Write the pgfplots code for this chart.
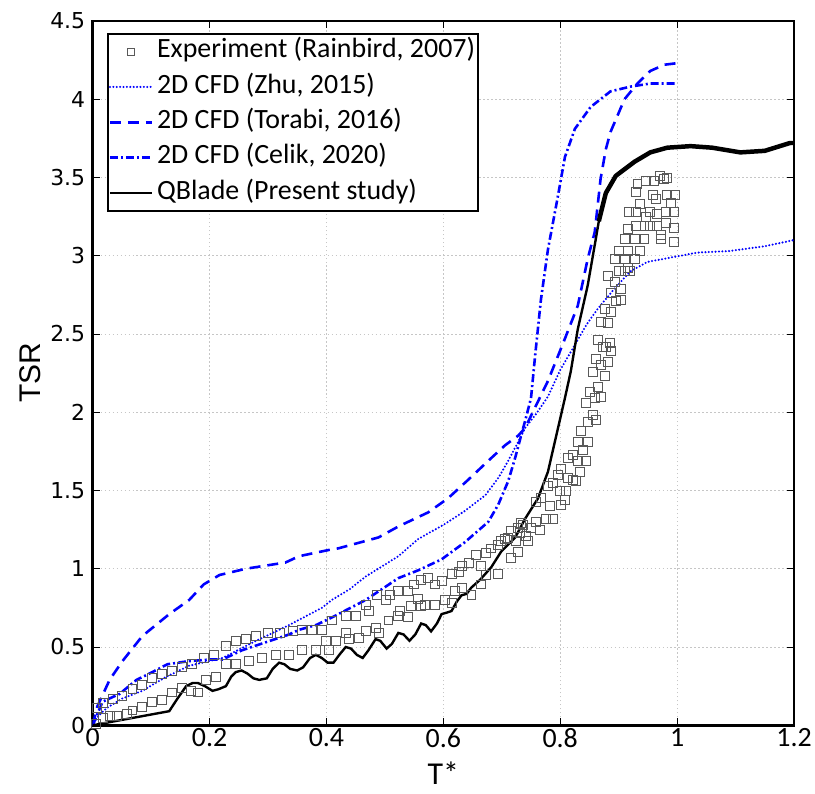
\documentclass[border=0pt]{standalone}
\usepackage{pgfplots}
\pgfplotsset{compat=1.18}
\usepackage{fontspec}
\setmainfont{Carlito}
\newfontfamily\dejavu{DejaVu Sans}
\newfontfamily\arialf{Liberation Sans}
\definecolor{pblue}{RGB}{0,0,255}
\begin{document}
\begin{tikzpicture}
\begin{axis}[
  scale only axis, width=704pt, height=707pt,
  xmin=0, xmax=1.2, ymin=0, ymax=4.5,
  xtick={0,0.2,0.4,0.6,0.8,1,1.2}, xticklabels={0,0.2,0.4,0.6,0.8,1,1.2},
  ytick={0,0.5,1,1.5,2,2.5,3,3.5,4,4.5}, yticklabels={0,0.5,1,1.5,2,2.5,3,3.5,4,4.5},
  axis line style={line width=2.5pt},
  tick align=inside, major tick length=7pt, tick style={black, line width=0.6pt},
  grid=major, major grid style={gray!45, line width=0.8pt, dash pattern=on 1.5pt off 2.5pt},
  xticklabel style={font=\fontsize{28}{28}\selectfont},
  yticklabel style={font=\dejavu\fontsize{22}{22}\selectfont, xshift=-4pt},
  xlabel={T*}, ylabel={TSR},
  xlabel style={font=\fontsize{32}{32}\selectfont, at={(axis description cs:0.5,-0.068)}, anchor=center},
  ylabel style={font=\arialf\fontsize{30}{30}\selectfont, at={(axis description cs:-0.0895,0.5)}, anchor=center},
  legend style={at={(0.02,0.983)}, anchor=north west, draw=black, line width=2pt,
    font=\fontsize{28}{28}\selectfont, inner xsep=1pt, inner ysep=3pt, row sep=6pt, column sep=2pt,
    nodes={inner sep=2pt, text height=19pt, text depth=6.5pt}},
  legend cell align=left,
  legend image code/.code={\draw[#1] (0pt,0pt) -- (42pt,0pt);},
]
% Experiment (Rainbird, 2007)
\addplot[only marks, mark=square, mark size=4.5pt, black!65, mark options={solid, line width=0.8pt},
  legend image code/.code={\draw[black!65, line width=0.7pt] (17.5pt,-3.5pt) rectangle (24.5pt,3.5pt);}]
table {
x y
0.005 0.01
0.017 0.05
0.030 0.06
0.042 0.06
0.058 0.07
0.068 0.095
0.085 0.115
0.102 0.15
0.119 0.16
0.136 0.21
0.153 0.24
0.168 0.22
0.180 0.21
0.194 0.29
0.211 0.31
0.228 0.39
0.245 0.39
0.268 0.41
0.290 0.43
0.314 0.45
0.336 0.45
0.358 0.48
0.382 0.48
0.404 0.48
0.399 0.54
0.416 0.54
0.433 0.59
0.438 0.55
0.455 0.56
0.467 0.60
0.484 0.62
0.489 0.59
0.506 0.67
0.523 0.70
0.526 0.73
0.540 0.69
0.545 0.76
0.562 0.76
0.569 0.77
0.586 0.77
0.603 0.80
0.614 0.78
0.620 0.86
0.631 0.88
0.648 0.83
0.665 0.90
0.672 0.96
0.694 0.97
0.716 1.07
0.728 1.11
0.745 1.18
0.007 0.11
0.017 0.14
0.034 0.17
0.050 0.19
0.068 0.23
0.085 0.26
0.102 0.30
0.119 0.33
0.136 0.35
0.153 0.37
0.170 0.39
0.190 0.43
0.208 0.45
0.228 0.51
0.245 0.54
0.262 0.55
0.280 0.57
0.300 0.59
0.320 0.59
0.343 0.60
0.358 0.61
0.375 0.61
0.392 0.61
0.409 0.67
0.433 0.70
0.450 0.70
0.467 0.77
0.472 0.73
0.486 0.83
0.501 0.80
0.509 0.83
0.523 0.86
0.540 0.86
0.549 0.90
0.557 0.81
0.561 0.93
0.574 0.94
0.586 0.90
0.597 0.92
0.614 0.97
0.626 0.98
0.631 1.02
0.643 1.04
0.655 1.09
0.665 1.02
0.672 1.10
0.682 1.13
0.694 1.15
0.706 1.19
0.716 1.24
0.728 1.26
0.733 1.29
0.699 1.18
0.711 1.20
0.724 1.18
0.731 1.23
0.741 1.21
0.736 1.28
0.750 1.26
0.758 1.30
0.765 1.25
0.776 1.32
0.787 1.32
0.758 1.43
0.767 1.45
0.782 1.40
0.801 1.41
0.808 1.44
0.779 1.53
0.787 1.55
0.810 1.50
0.799 1.50
0.796 1.60
0.813 1.58
0.822 1.57
0.827 1.56
0.801 1.64
0.813 1.71
0.822 1.73
0.830 1.69
0.844 1.69
0.833 1.62
0.830 1.81
0.847 1.81
0.839 1.76
0.835 1.88
0.847 1.94
0.856 1.98
0.861 1.95
0.844 2.06
0.850 2.13
0.864 2.16
0.859 2.09
0.869 2.10
0.856 2.26
0.876 2.23
0.861 2.34
0.881 2.32
0.869 2.30
0.886 2.39
0.864 2.46
0.873 2.42
0.878 2.42
0.885 2.44
0.869 2.58
0.881 2.57
0.876 2.66
0.886 2.64
0.886 2.76
0.903 2.72
0.895 2.71
0.903 2.79
0.893 2.83
0.881 2.87
0.901 2.90
0.915 2.92
0.910 2.90
0.920 2.90
0.893 2.98
0.910 2.98
0.927 2.98
0.901 3.03
0.915 3.03
0.937 3.03
0.910 3.11
0.927 3.11
0.944 3.11
0.972 3.11
0.995 3.09
0.972 3.13
0.915 3.17
0.929 3.19
0.944 3.19
0.954 3.19
0.966 3.19
0.980 3.21
0.995 3.18
0.918 3.28
0.929 3.28
0.946 3.25
0.954 3.28
0.966 3.27
0.980 3.28
0.995 3.28
0.937 3.33
0.963 3.36
0.989 3.34
0.929 3.41
0.958 3.39
0.983 3.39
0.997 3.39
0.932 3.46
0.946 3.48
0.961 3.48
0.970 3.51
0.978 3.49
0.983 3.50
};
\addlegendentry{Experiment (Rainbird, 2007)}
% 2D CFD (Zhu, 2015)
\addplot[pblue, line width=2.3pt, line cap=round, dash pattern=on 0pt off 3.4pt] table {
x y
0 0
0.010 0.06
0.024 0.11
0.050 0.17
0.085 0.22
0.126 0.31
0.165 0.38
0.222 0.43
0.280 0.54
0.336 0.64
0.392 0.75
0.409 0.80
0.440 0.87
0.467 0.95
0.523 1.08
0.557 1.19
0.600 1.28
0.637 1.37
0.672 1.47
0.694 1.58
0.711 1.69
0.728 1.81
0.740 1.90
0.757 1.98
0.779 2.10
0.800 2.27
0.825 2.43
0.845 2.56
0.864 2.66
0.893 2.79
0.920 2.90
0.949 2.96
1.006 3.00
1.035 3.02
1.090 3.03
1.149 3.06
1.200 3.10
};
\addlegendentry{2D CFD (Zhu, 2015)}
% 2D CFD (Torabi, 2016)
\addplot[pblue, line width=2.6pt, dash pattern=on 11pt off 7pt] table {
x y
0 0
0.008 0.12
0.029 0.29
0.051 0.41
0.085 0.57
0.131 0.71
0.165 0.80
0.190 0.90
0.217 0.96
0.262 1.00
0.330 1.04
0.353 1.08
0.404 1.12
0.420 1.13
0.489 1.20
0.523 1.27
0.574 1.36
0.608 1.45
0.643 1.57
0.677 1.69
0.706 1.79
0.728 1.85
0.740 1.90
0.779 2.20
0.808 2.47
0.830 2.68
0.847 2.98
0.859 3.15
0.869 3.49
0.878 3.68
0.886 3.79
0.910 4.00
0.932 4.10
0.954 4.18
0.978 4.22
1.000 4.23
};
\addlegendentry{2D CFD (Torabi, 2016)}
% 2D CFD (Celik, 2020)
\addplot[pblue, line width=2.6pt, dash pattern=on 8pt off 3pt on 2pt off 3pt] table {
x y
0 0
0.017 0.15
0.034 0.18
0.046 0.20
0.075 0.29
0.097 0.33
0.128 0.39
0.165 0.41
0.200 0.42
0.222 0.42
0.256 0.48
0.296 0.53
0.336 0.58
0.353 0.61
0.382 0.64
0.410 0.69
0.467 0.80
0.523 0.94
0.557 0.99
0.597 1.06
0.637 1.17
0.677 1.30
0.694 1.41
0.711 1.56
0.723 1.71
0.733 1.85
0.741 1.96
0.750 2.09
0.757 2.36
0.767 2.72
0.779 3.04
0.796 3.38
0.808 3.63
0.825 3.81
0.852 3.95
0.886 4.05
0.920 4.08
0.954 4.10
1.000 4.10
};
\addlegendentry{2D CFD (Celik, 2020)}
% QBlade (Present study)
\addplot[black, line width=2.4pt] table {
x y
0 0
0.131 0.09
0.145 0.17
0.160 0.25
0.171 0.27
0.180 0.27
0.192 0.25
0.205 0.22
0.215 0.23
0.228 0.25
0.237 0.31
0.245 0.34
0.255 0.35
0.265 0.33
0.275 0.30
0.285 0.29
0.298 0.30
0.308 0.36
0.319 0.40
0.328 0.39
0.338 0.36
0.350 0.35
0.360 0.37
0.372 0.43
0.382 0.45
0.392 0.43
0.402 0.40
0.412 0.40
0.422 0.45
0.433 0.50
0.442 0.49
0.452 0.45
0.462 0.43
0.472 0.48
0.484 0.55
0.492 0.54
0.503 0.49
0.512 0.52
0.523 0.59
0.532 0.58
0.542 0.54
0.552 0.58
0.562 0.65
0.570 0.64
0.579 0.60
0.589 0.65
0.597 0.71
0.606 0.72
0.614 0.73
0.623 0.79
0.631 0.83
0.640 0.84
0.648 0.88
0.663 0.93
0.682 1.01
0.699 1.11
0.723 1.20
0.740 1.32
0.762 1.45
0.779 1.62
0.787 1.75
0.808 2.09
0.818 2.26
0.830 2.53
0.847 2.81
0.861 3.11
0.866 3.22
0.878 3.40
0.895 3.51
0.927 3.60
0.954 3.66
0.983 3.69
1.023 3.70
1.060 3.69
1.108 3.66
1.150 3.67
1.193 3.72
1.200 3.72
};
\addlegendentry{QBlade (Present study)}
\addplot[black, line width=4.5pt, line join=round, forget plot] table {
x y
0.866 3.22
0.878 3.40
0.895 3.51
0.927 3.60
0.954 3.66
0.983 3.69
1.023 3.70
1.060 3.69
1.108 3.66
1.150 3.67
1.193 3.72
1.200 3.72
};
\end{axis}
\path (current axis.south west) +(-93pt,-68pt);
\path (current axis.north east) +(18pt,21pt);
\end{tikzpicture}
\end{document}
